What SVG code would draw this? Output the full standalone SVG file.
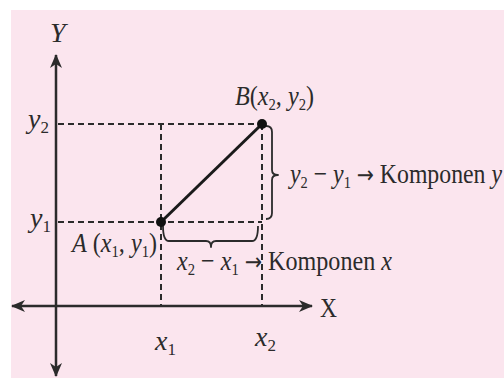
<svg xmlns="http://www.w3.org/2000/svg" width="504" height="378" viewBox="0 0 504 378">
<style>
text{font-family:"Liberation Serif","Times New Roman",serif;font-size:28px;fill:#2b2b2b}
.i{font-style:italic}
.s{font-size:17px;font-style:normal}
.ar{font-family:"DejaVu Sans",sans-serif;font-size:24px}
.axis{stroke:#2b2b2b;stroke-width:2.5;fill:none}
.dash{stroke:#2b2b2b;stroke-width:2;stroke-dasharray:6 4;fill:none}
.brace{stroke:#2b2b2b;stroke-width:1.8;fill:none;stroke-linejoin:round}
.seg{stroke:#1a1a1a;stroke-width:3;fill:none}
.dot{fill:#111}
</style>
<defs>
<marker id="arr" viewBox="0 0 14 12" refX="13" refY="6" markerWidth="14" markerHeight="12" markerUnits="userSpaceOnUse" orient="auto-start-reverse">
<path d="M0,0 L14,6 L0,12 L4,6 Z" fill="#2b2b2b"/>
</marker>
</defs>
<rect x="0" y="0" width="504" height="378" fill="#ffffff"/>
<rect x="11" y="10" width="493" height="368" fill="#fbe5ee"/>

<g id="axes">
<line class="axis" x1="56" y1="376" x2="56" y2="55" marker-start="url(#arr)" marker-end="url(#arr)"/>
<line class="axis" x1="12" y1="306" x2="312" y2="306" marker-start="url(#arr)" marker-end="url(#arr)"/>
<text class="i" x="50" y="42">Y</text>
<text x="320" y="317" textLength="17" lengthAdjust="spacingAndGlyphs">X</text>
<text class="i" x="28" y="128">y<tspan class="s" dy="5">2</tspan></text>
<text class="i" x="30" y="227">y<tspan class="s" dy="5">1</tspan></text>
<text class="i" x="155" y="350">x<tspan class="s" dy="5">1</tspan></text>
<text class="i" x="255" y="346">x<tspan class="s" dy="5">2</tspan></text>
</g>

<g id="connectors">
<line class="dash" x1="58" y1="124" x2="262" y2="124"/>
<line class="dash" x1="58" y1="222" x2="262" y2="222"/>
<line class="dash" x1="161" y1="124" x2="161" y2="306"/>
<line class="dash" x1="262" y1="124" x2="262" y2="306"/>
<line class="seg" x1="161" y1="222" x2="262" y2="124"/>
<path class="brace" d="M266,126 Q272,126 272,132 L272,170 Q272,175 278,175 Q272,175 272,180 L272,213 Q272,219 266,219"/>
<path class="brace" d="M163,226 Q163,241 169,241 L206,241 Q211,241 211,247 Q211,241 216,241 L252,241 Q258,241 258,226"/>
</g>

<g id="pointA">
<circle class="dot" cx="161" cy="222" r="5"/>
<text x="72" y="252" textLength="85" lengthAdjust="spacingAndGlyphs"><tspan class="i">A</tspan> (<tspan class="i">x</tspan><tspan class="s" dy="5">1</tspan><tspan dy="-5">, </tspan><tspan class="i">y</tspan><tspan class="s" dy="5">1</tspan><tspan dy="-5">)</tspan></text>
</g>

<g id="pointB">
<circle class="dot" cx="262" cy="124" r="5"/>
<text x="235" y="105" textLength="79" lengthAdjust="spacingAndGlyphs"><tspan class="i">B</tspan>(<tspan class="i">x</tspan><tspan class="s" dy="5">2</tspan><tspan dy="-5">, </tspan><tspan class="i">y</tspan><tspan class="s" dy="5">2</tspan><tspan dy="-5">)</tspan></text>
</g>

<g id="labelY">
<text x="290" y="183" textLength="212" lengthAdjust="spacingAndGlyphs"><tspan class="i">y</tspan><tspan class="s" dy="5">2</tspan><tspan dy="-5"> − </tspan><tspan class="i">y</tspan><tspan class="s" dy="5">1</tspan><tspan dy="-5"> </tspan><tspan class="ar">→</tspan> Komponen <tspan class="i">y</tspan></text>
</g>

<g id="labelX">
<text x="177" y="270" textLength="215" lengthAdjust="spacingAndGlyphs"><tspan class="i">x</tspan><tspan class="s" dy="5">2</tspan><tspan dy="-5"> − </tspan><tspan class="i">x</tspan><tspan class="s" dy="5">1</tspan><tspan dy="-5"> </tspan><tspan class="ar">→</tspan> Komponen <tspan class="i">x</tspan></text>
</g>
</svg>
